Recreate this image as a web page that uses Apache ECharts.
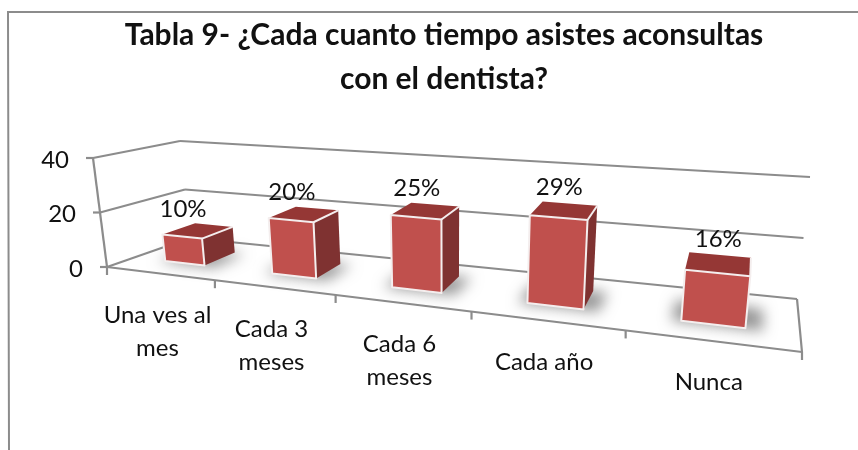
<!DOCTYPE html>
<html><head><meta charset="utf-8">
<style>html,body{margin:0;padding:0;background:#fff}#c{width:858px;height:450px}</style>
<script src="https://cdn.jsdelivr.net/npm/echarts@6/dist/echarts.min.js"></script>
</head><body><div id="c"></div>
<script>
const titleLines = ['Tabla 9- ¿Cada cuanto tiempo asistes aconsultas', 'con el dentista?'];
const categories = ['Una ves al\nmes', 'Cada 3\nmeses', 'Cada 6\nmeses', 'Cada año', 'Nunca'];
const values = [10, 20, 25, 29, 16];
const valueLabels = ['10%', '20%', '25%', '29%', '16%'];
const yTicks = [0, 20, 40];

// Oblique view: eight corners of the plot box on the page, and the foreshortening of the floor.
const BOX = {
  fl0: [107, 267], fr0: [802, 352], bl0: [190, 238], br0: [797, 299],
  fl1: [93, 158], fr1: [817, 215], bl1: [180, 141], br1: [810, 177]
};
const FORESHORTEN = 1.36, BAR_HALF = 0.19, D0 = 0.33, D1 = 0.74;
const lerp = (a, b, k) => [a[0] + (b[0] - a[0]) * k, a[1] + (b[1] - a[1]) * k];
function project(p, h, d) {
  const s = p / (p + FORESHORTEN * (1 - p));
  const f0 = lerp(BOX.fl0, BOX.fr0, s), b0 = lerp(BOX.bl0, BOX.br0, s);
  const f1 = lerp(BOX.fl1, BOX.fr1, s), b1 = lerp(BOX.bl1, BOX.br1, s);
  return lerp(lerp(f0, b0, d), lerp(f1, b1, d), h);
}
// Turns a category/value pair into a page point using the chart's own axes.
function viewer(params, api) {
  const cs = params.coordSys, band = api.size([1, 0])[0];
  return (cat, off, val, d) => {
    const c = api.coord([cat, val]);
    return project((c[0] + off * band - cs.x) / cs.width, (cs.y + cs.height - c[1]) / cs.height, d);
  };
}
const GREY = '#8c8c8c';
const seg = (a, b, w) => ({ type: 'line', shape: { x1: a[0], y1: a[1], x2: b[0], y2: b[1] }, style: { stroke: GREY, lineWidth: w || 2.2 }, silent: true });
const poly = (pts, style) => ({ type: 'polygon', shape: { points: pts }, style, silent: true });
const FONT = 'Lato, "Open Sans", sans-serif';
const text = (x, y, t, align, vAlign, size, lh) => ({ type: 'text', x, y, silent: true, style: { text: t, fill: '#111', font: size + 'px ' + FONT, align, verticalAlign: vAlign, lineHeight: lh } });
const OFFSCREEN = 3000;

const option = {
  animation: false,
  backgroundColor: '#fff',
  title: { text: titleLines.join('\n'), left: 439, top: 8, textAlign: 'center',
    textStyle: { fontFamily: FONT, fontWeight: 'bold', fontSize: 30, lineHeight: 44, color: '#111' } },
  grid: { left: 107, top: 158, width: 695, height: 110 },
  xAxis: { type: 'category', data: categories, show: false },
  yAxis: { type: 'value', min: 0, max: 40, interval: 20, show: false },
  graphic: [
    { type: 'polyline', shape: { points: [[858, 12], [8, 12], [9, 450]] }, style: { stroke: GREY, lineWidth: 2, fill: null }, silent: true }
  ],
  series: [
    { // walls, gridlines, value tick labels
      type: 'custom', coordinateSystem: 'cartesian2d', clip: false, z: 1,
      data: yTicks.map(v => [0, v]),
      encode: { x: 0, y: 1 },
      renderItem(params, api) {
        const v = api.value(1), pt = viewer(params, api), half = -0.5;
        const a = pt(0, half, v, 0), b = pt(0, half, v, 1), c = pt(4, 0.5, v, 1);
        const kids = [seg(a, b), seg(b, c), seg([a[0] - 7, a[1]], a), text(a[0] - 24, a[1] + 2, String(v), 'right', 'middle', 24)];
        if (v === 0) {
          const fr = pt(4, 0.5, 0, 0);
          kids.push(seg(a, fr), seg(c, fr), seg(a, pt(0, half, 40, 0)));
          for (let i = 0; i < categories.length; i++) {
            const tk = pt(i, half, 0, 0);
            kids.push(seg(tk, [tk[0], tk[1] + 8]));
          }
          kids.push(seg(fr, [fr[0], fr[1] + 8]));
        }
        return { type: 'group', children: kids };
      }
    },
    { // category labels
      type: 'custom', coordinateSystem: 'cartesian2d', clip: false, z: 2,
      data: categories.map((c, i) => [i, 0]),
      encode: { x: 0, y: 1 },
      renderItem(params, api) {
        const i = api.value(0), p = viewer(params, api)(i, 0, 0, 0);
        return text(p[0] - 2, p[1] + 25, categories[i], 'center', 'top', 24, 33);
      }
    },
    { // bars
      type: 'custom', coordinateSystem: 'cartesian2d', clip: false, z: 3,
      data: values.map((v, i) => [i, v]),
      encode: { x: 0, y: 1 },
      renderItem(params, api) {
        const i = api.value(0), v = api.value(1), pt = viewer(params, api);
        const l = -BAR_HALF, r = BAR_HALF;
        const fbl = pt(i, l, 0, D0), fbr = pt(i, r, 0, D0), ftl = pt(i, l, v, D0), ftr = pt(i, r, v, D0);
        const bbr = pt(i, r, 0, D1), btl = pt(i, l, v, D1), btr = pt(i, r, v, D1);
        const sh = [pt(i, l - 0.06, 0, D0 - 0.02), pt(i, r + 0.1, 0, D0 - 0.02), pt(i, r + 0.1, 0, D1), pt(i, l - 0.06, 0, D1)]
          .map(q => [q[0] - OFFSCREEN, q[1]]);
        const labX = pt(i, 0, v, D0)[0] + 1, labY = pt(i, 0, v, D1)[1];
        return { type: 'group', children: [
          poly(sh, { fill: '#000', shadowBlur: 14, shadowOffsetX: OFFSCREEN, shadowColor: 'rgba(80,80,80,0.6)' }),
          poly([fbr, bbr, btr, ftr], { fill: '#7f3231' }),
          poly([ftl, ftr, btr, btl], { fill: '#953735' }),
          poly([fbl, fbr, ftr, ftl], { fill: '#c0504d', stroke: '#f4eeee', lineWidth: 2, lineJoin: 'round' }),
          { type: 'line', shape: { x1: ftr[0], y1: ftr[1], x2: btr[0], y2: btr[1] }, style: { stroke: '#f4eeee', lineWidth: 2 }, silent: true },
          text(labX, labY - 4, valueLabels[i], 'center', 'bottom', 24)
        ] };
      }
    }
  ]
};
echarts.init(document.getElementById('c'), null, { renderer: 'canvas' }).setOption(option);
</script></body></html>
